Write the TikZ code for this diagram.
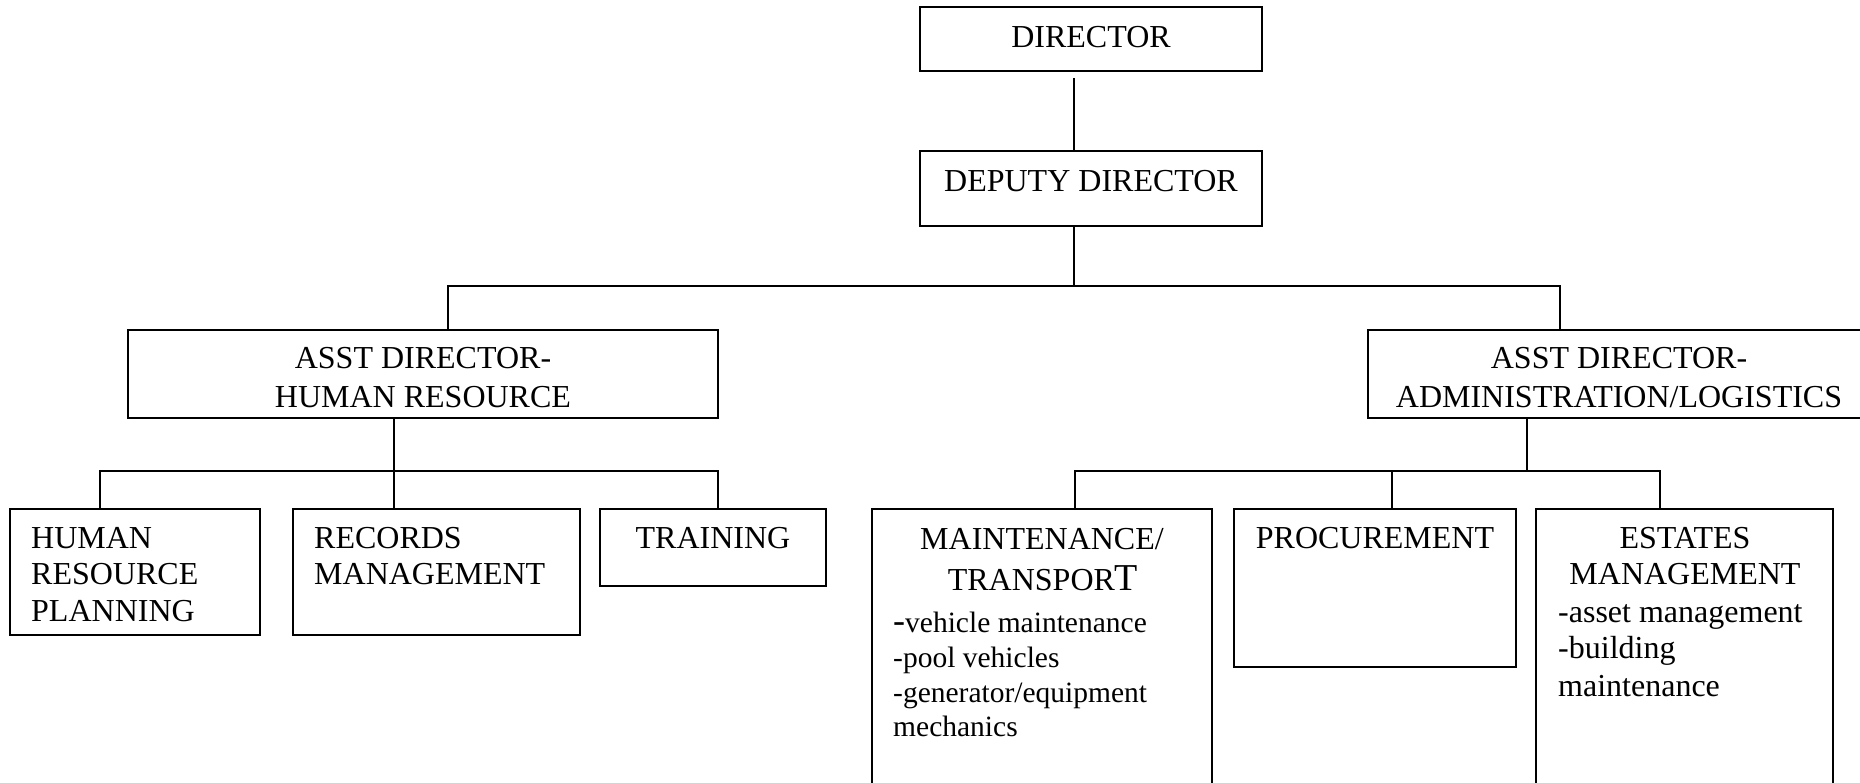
\documentclass[tikz,border=0pt]{standalone}
\usepackage{fontspec}
\setmainfont{Liberation Serif}
\usetikzlibrary{calc}
\tikzset{
  box/.style={draw, line width=1.8pt, rectangle, anchor=north west, inner sep=0pt, outer sep=0pt},
  conn/.style={line width=1.8pt},
  tc/.style={anchor=base, inner sep=0pt, font=\fontsize{32}{38}\selectfont},
  tl/.style={anchor=base west, inner sep=0pt, font=\fontsize{32}{38}\selectfont},
  tls/.style={anchor=base west, inner sep=0pt, font=\fontsize{29.5}{36}\selectfont},
}
\newcommand\bx[5]{\node[box,minimum width=#3pt,minimum height=#4pt] (#5) at (#1,#2) {};}
\begin{document}
\begin{tikzpicture}[x=1pt,y=-1pt]
\useasboundingbox (0,0) rectangle (1860,783);
\clip (0,0) rectangle (1860,783);
% boxes
\bx{920}{7}{342}{64}{dir}
\bx{920}{151}{342}{75}{dep}
\bx{128}{330}{590}{88}{ahr}
\bx{1368}{330}{502}{88}{aad}
\bx{10}{509}{250}{126}{hrp}
\bx{293}{509}{287}{126}{rec}
\bx{600}{509}{226}{77}{trn}
\bx{872}{509}{340}{300}{mnt}
\bx{1234}{509}{282}{158}{prc}
\bx{1536}{509}{297}{300}{est}
% texts
\node[tc] (tdir) at (1091,48) {DIRECTOR};
\node[tc] (tdep) at (1091,192) {DEPUTY DIRECTOR};
\node[tc] (tahr1) at (423,369) {ASST DIRECTOR-};
\node[tc] (tahr2) at (423,407) {HUMAN RESOURCE};
\node[tc] (taad1) at (1619,369) {ASST DIRECTOR-};
\node[tc] (taad2) at (1619,407) {ADMINISTRATION/LOGISTICS};
\node[tl] (thrp1) at (31,548) {HUMAN};
\node[tl] (thrp2) at (31,584) {RESOURCE};
\node[tl] (thrp3) at (31,621) {PLANNING};
\node[tl] (trec1) at (314,548) {RECORDS};
\node[tl] (trec2) at (314,584) {MANAGEMENT};
\node[tc] (ttrn) at (713,548) {TRAINING};
\node[tc] (tmnt1) at (1042,549) {MAINTENANCE/};
\node[tc] (tmnt2) at (1043,590) {TRANSPOR{\fontsize{38}{40}\selectfont T}};
\node[tls] (tmnt3) at (893,632) {{\fontsize{36}{38}\selectfont -}vehicle maintenance};
\node[tls] (tmnt4) at (893,667) {-pool vehicles};
\node[tls] (tmnt5) at (893,702) {-generator/equipment};
\node[tls] (tmnt6) at (893,736) {mechanics};
\node[tc] (tprc) at (1375,548) {PROCUREMENT};
\node[tc] (test1) at (1685,548) {ESTATES};
\node[tc] (test2) at (1685,584) {MANAGEMENT};
\node[tl] (test3) at (1558,622) {-asset management};
\node[tl] (test4) at (1558,658) {-building};
\node[tl] (test5) at (1558,696) {maintenance};
% connectors
\coordinate (topbus) at (1074,286);
\coordinate (hrbus) at (394,471);
\coordinate (adbus) at (1527,471);
\draw[conn] ([xshift=-17pt,yshift=-7pt]dir.south) -- ([xshift=-17pt]dep.north);
\draw[conn] ([xshift=-17pt]dep.south) -- (topbus);
\draw[conn] ([xshift=25pt]ahr.north) |- (topbus) -| ([xshift=-59pt]aad.north);
\draw[conn] ([xshift=-29pt]ahr.south) -- (hrbus);
\draw[conn] ([xshift=-35pt]hrp.north) |- (hrbus) -| ([xshift=5pt]trn.north);
\draw[conn] ([xshift=-42.5pt]rec.north) -- (hrbus);
\draw[conn] ([xshift=-92pt]aad.south) -- (adbus);
\draw[conn] ([xshift=33pt]mnt.north) |- (adbus) -| ([xshift=-24.5pt]est.north);
\draw[conn] ([xshift=17pt]prc.north) -- ([xshift=17pt]prc.north |- adbus);
\end{tikzpicture}
\end{document}
